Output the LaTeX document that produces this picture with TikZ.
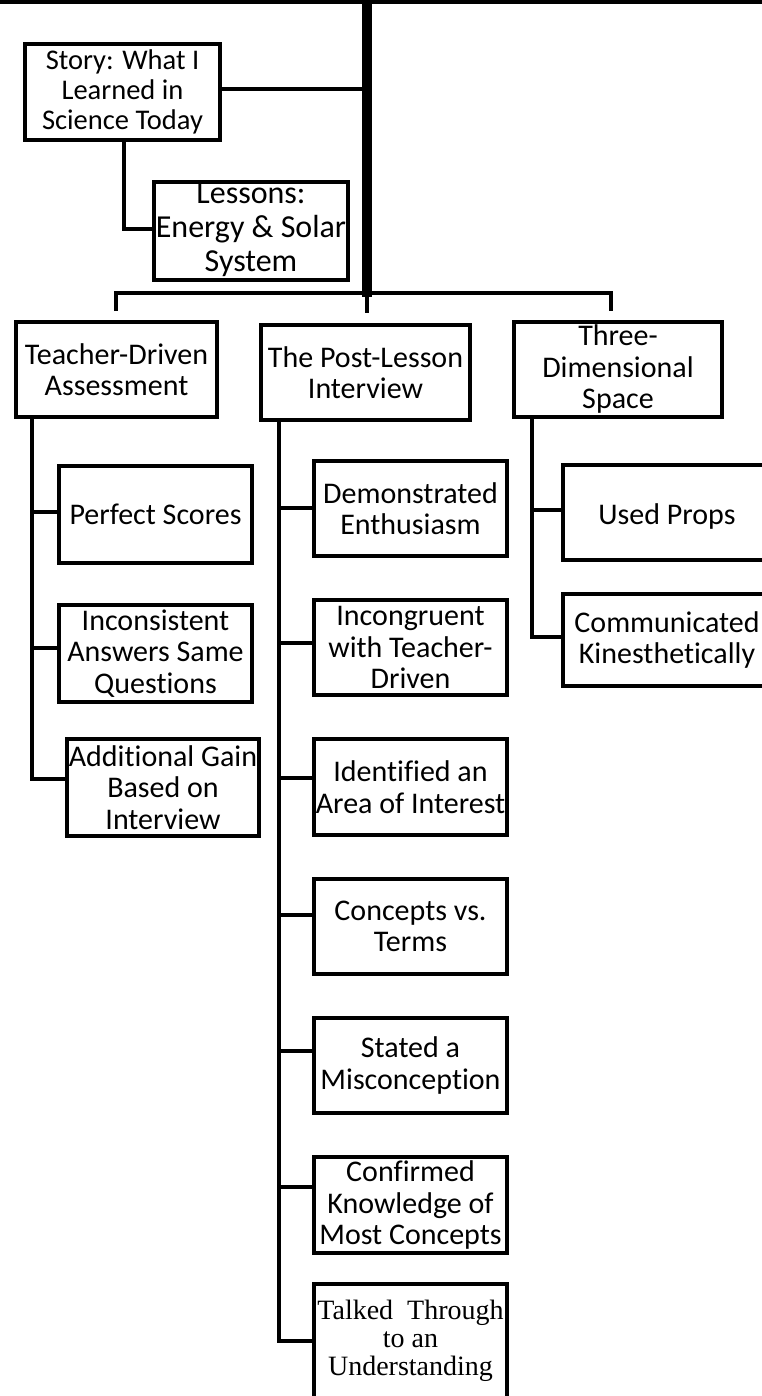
\documentclass[tikz,border=0pt]{standalone}
\usepackage{fontspec}
\setmainfont{Carlito}[Ligatures={NoCommon}]
\newfontfamily\timesfont{Liberation Serif}
\begin{document}
\begin{tikzpicture}[x=1pt,y=-1pt,
  box/.style={draw=black,line width=4pt,inner sep=0pt,fill=white},
  txt/.style={inner sep=0pt,align=center,font=\fontsize{30}{31.5}\selectfont},
  conn/.style={draw=black,line width=4pt},
  thickconn/.style={draw=black,line width=10pt}]
\fill[white] (0,0) rectangle (762,1396);
\useasboundingbox (0,0) rectangle (762,1396);
\begin{scope}
\clip (0,0) rectangle (762,1396);
% boxes
\node[box,minimum width=195pt,minimum height=96pt] (story) at (122.5,92) {};
\node[txt,font=\fontsize{28.5}{30}\selectfont] (storyt) at (story) {Story: What I\\Learned in\\Science Today};
\node[box,minimum width=194pt,minimum height=98pt] (lessons) at (251,231) {};
\node[txt,font=\fontsize{32}{34}\selectfont] (lessonst) at ([yshift=1pt]lessons.center) {Lessons:\\Energy \& Solar\\System};
\node[box,minimum width=201pt,minimum height=95pt] (tda) at (116.5,369.5) {};
\node[txt] (tdat) at (tda) {Teacher-Driven\\Assessment};
\node[box,minimum width=209pt,minimum height=95pt] (pli) at (365.5,372.5) {};
\node[txt] (plit) at (pli) {The Post-Lesson\\Interview};
\node[box,minimum width=208pt,minimum height=95pt] (tds) at (618,369.5) {};
\node[txt] (tdst) at (tds) {Three-\\Dimensional\\Space};
\node[box,minimum width=193pt,minimum height=97pt] (perfect) at (155.5,514.5) {};
\node[txt] (perfectt) at (perfect) {Perfect Scores};
\node[box,minimum width=193pt,minimum height=97pt] (incons) at (155.5,653.5) {};
\node[txt] (inconst) at (incons) {Inconsistent\\Answers Same\\Questions};
\node[box,minimum width=192pt,minimum height=97pt] (addl) at (163,787.5) {};
\node[txt] (addlt) at (addl) {Additional Gain\\Based on\\Interview};
\node[box,minimum width=193pt,minimum height=95pt] (demo) at (410.5,508.5) {};
\node[txt] (demot) at (demo) {Demonstrated\\Enthusiasm};
\node[box,minimum width=193pt,minimum height=95pt] (incong) at (410.5,647.5) {};
\node[txt] (incongt) at (incong) {Incongruent\\with Teacher-\\Driven};
\node[box,minimum width=193pt,minimum height=96pt] (ident) at (410.5,787) {};
\node[txt] (identt) at (ident) {Identified an\\Area of Interest};
\node[box,minimum width=193pt,minimum height=95pt] (concepts) at (410.5,926.5) {};
\node[txt] (conceptst) at (concepts) {Concepts vs.\\Terms};
\node[box,minimum width=193pt,minimum height=95pt] (stated) at (410.5,1065.5) {};
\node[txt] (statedt) at (stated) {Stated a\\Misconception};
\node[box,minimum width=193pt,minimum height=96pt] (confirmed) at (410.5,1205) {};
\node[txt] (confirmedt) at (confirmed) {Confirmed\\Knowledge of\\Most Concepts};
\node[box,minimum width=193pt,minimum height=114pt] (talked) at (410.5,1341) {};
\node[txt,font=\timesfont\fontsize{28}{28}\selectfont] (talkedt) at (talked) {Talked\ \ Through\\to an\\Understanding};
\node[box,minimum width=208pt,minimum height=95pt] (used) at (667,512.5) {};
\node[txt] (usedt) at ([yshift=-4pt]used.center) {Used Props};
\node[box,minimum width=208pt,minimum height=92pt] (comm) at (667,640) {};
\node[txt] (commt) at (comm) {Communicated\\Kinesthetically};
% coordinates
\coordinate (tl) at (0,2);
\coordinate (tr) at (762,2);
\coordinate (trunkTop) at (366.5,0);
\coordinate (trunkBot) at (366.5,297);
\coordinate (bL) at (116,293);
\coordinate (bR) at (611,293);
\coordinate (tdaS) at ([xshift=18pt]tda.south west);
\coordinate (pliS) at ([xshift=20pt]pli.south west);
\coordinate (tdsS) at ([xshift=20pt]tds.south west);
% connectors
\draw[line width=5pt] (tl) -- (tr);
\draw[thickconn] (trunkTop) -- (trunkBot);
\draw[conn] ([yshift=3pt]story.east) -- ([yshift=3pt]story.east -| trunkTop);
\draw[conn] ([xshift=1.5pt]story.south) |- ([yshift=2pt]lessons.west);
\draw[conn] ([yshift=9pt]tda.north -| bL) |- (bR) -- ([yshift=9pt]tds.north -| bR);
\draw[conn] (trunkBot) -- ([yshift=10pt]pli.north -| trunkBot);
% teacher-driven
\draw[conn] (tdaS) |- ([yshift=8.5pt]addl.west);
\draw[conn] ([yshift=2.5pt]perfect.west) -- ([yshift=2.5pt]perfect.west -| tdaS);
\draw[conn] ([yshift=5.5pt]incons.west) -- ([yshift=5.5pt]incons.west -| tdaS);
% post-lesson
\draw[conn] (pliS) |- (talked.west);
\draw[conn] ([yshift=0.5pt]demo.west) -- ([yshift=0.5pt]demo.west -| pliS);
\draw[conn] ([yshift=4.5pt]incong.west) -- ([yshift=4.5pt]incong.west -| pliS);
\draw[conn] ([yshift=9pt]ident.west) -- ([yshift=9pt]ident.west -| pliS);
\draw[conn] ([yshift=11.5pt]concepts.west) -- ([yshift=11.5pt]concepts.west -| pliS);
\draw[conn] ([yshift=14.5pt]stated.west) -- ([yshift=14.5pt]stated.west -| pliS);
\draw[conn] ([yshift=18pt]confirmed.west) -- ([yshift=18pt]confirmed.west -| pliS);
% three-dimensional
\draw[conn] (tdsS) |- ([yshift=3pt]comm.west);
\draw[conn] ([yshift=2.5pt]used.west) -- ([yshift=2.5pt]used.west -| tdsS);
\end{scope}
\end{tikzpicture}
\end{document}
